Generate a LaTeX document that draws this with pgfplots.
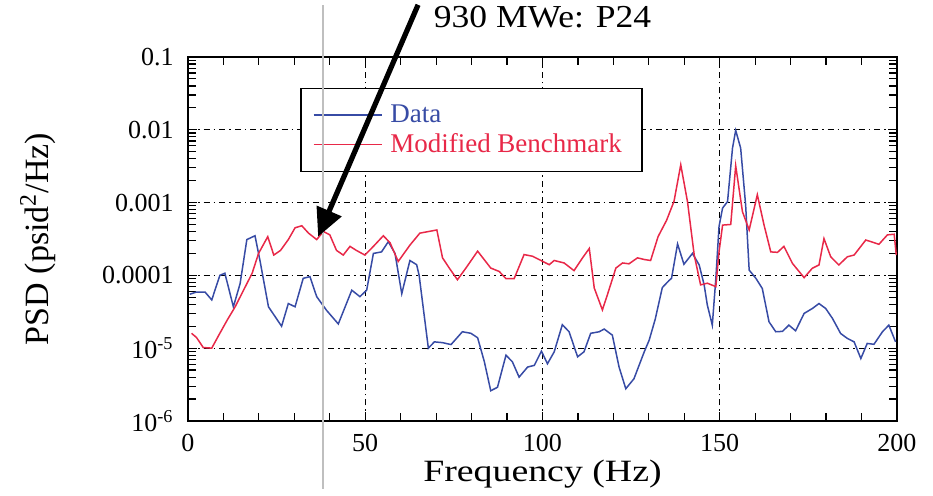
\documentclass[border=0pt]{standalone}
\usepackage{fontspec}
\setmainfont{Liberation Serif}
\newfontfamily\titlefont{Liberation Serif}[FakeStretch=1.11]
\newfontfamily\xlabfont{Liberation Serif}[FakeStretch=1.22]
\usepackage{pgfplots}
\pgfplotsset{compat=1.18}
\usetikzlibrary{arrows.meta}
\definecolor{dblue}{RGB}{55,75,165}
\definecolor{dred}{RGB}{232,40,72}
\begin{document}
\begin{tikzpicture}
\begin{axis}[
  scale only axis,
  width=354.5pt, height=182pt,
  xmin=0, xmax=200,
  ymode=log, ymin=1e-6, ymax=0.1,
  xtick={0,50,100,150,200},
  xticklabels={0,50,100,150,200},
  minor x tick num=4,
  ytick={1e-6,1e-5,1e-4,1e-3,1e-2,1e-1},
  yticklabels={10\textsuperscript{-6},10\textsuperscript{-5},0.0001,0.001,0.01,0.1},
  tick align=inside,
  xtick pos=both, ytick pos=both,
  xticklabel pos=bottom, yticklabel pos=left,
  major tick length=4.5pt, minor tick length=4pt,
  every tick/.style={black, line width=0.6pt},
  axis line style={line width=0.9pt},
  tick label style={font=\fontsize{13}{13}\selectfont},
  xticklabel style={yshift=-3.2pt},
  yticklabel style={xshift=-3.7pt},
  grid=major,
  major grid style={black, line width=0.5pt, dash pattern=on 3pt off 2pt on 0.8pt off 2pt},
  title={\titlefont\fontsize{16}{16}\selectfont 930 MWe: P24},
  title style={at={(axis description cs:0.5,1.0467)}, anchor=base},
  xlabel={\xlabfont\fontsize{15.5}{16}\selectfont Frequency (Hz)},
  xlabel style={at={(axis description cs:0.5,-0.1676)}, anchor=base},
  ylabel={\fontsize{17}{17}\selectfont PSD (psid\textsuperscript{2}/Hz)},
  ylabel style={at={(axis description cs:-0.2116,0.5)}, anchor=center, rotate=0},
  legend style={at={(rel axis cs:0.158,0.915)}, anchor=north west, draw=black, line width=0.75pt,
    font=\fontsize{13.5}{15}\selectfont, inner xsep=6pt, inner ysep=6pt, row sep=0pt,
    fill=white, nodes={inner xsep=4pt}},
  legend cell align=left,
  legend image code/.code={\draw[#1] (0pt,0pt) -- (34pt,0pt);},
]
\addplot[dblue, line width=0.75pt] coordinates {
(0.5,5.5e-5)(2.4,5.9e-5)(4.8,5.9e-5)(6.7,4.6e-5)(9.0,1.0e-4)(10.4,1.07e-4)(12.8,3.7e-5)
(14.7,7.7e-5)(16.6,3.1e-4)(18.9,3.5e-4)(20.3,1.6e-4)(22.7,3.7e-5)(26.4,2.0e-5)(28.3,4.1e-5)
(30.2,3.7e-5)(32.5,9.1e-5)(34.4,9.6e-5)(36.3,5.1e-5)(39.1,3.3e-5)(42.4,2.15e-5)(46.2,6.25e-5)
(48.5,5.1e-5)(50.4,6.25e-5)(52.3,2.0e-4)(54.6,2.1e-4)(56.5,2.9e-4)(58.4,2.0e-4)(60.3,5.6e-5)
(62.6,1.6e-4)(64.5,1.4e-4)(65.2,1.0e-4)(67.8,1.0e-5)(69.5,1.22e-5)(71.8,1.19e-5)(74.2,1.12e-5)
(77.4,1.68e-5)(79.8,1.6e-5)(81.7,1.39e-5)(83.6,6.5e-6)(85.4,2.6e-6)(87.3,2.9e-6)(89.7,8.0e-6)
(91.5,6.5e-6)(93.4,4.0e-6)(95.8,5.5e-6)(97.7,5.8e-6)(99.7,9.1e-6)(101.4,6.1e-6)(103.3,8.9e-6)
(105.6,2.1e-5)(107.5,1.68e-5)(109.9,7.6e-6)(111.7,8.9e-6)(113.6,1.6e-5)(116.0,1.68e-5)
(117.4,1.83e-5)(119.7,1.51e-5)(121.6,5.5e-6)(123.5,2.77e-6)(125.8,3.8e-6)(128.7,8.9e-6)
(130.1,1.29e-5)(131.8,2.5e-5)(133.8,6.8e-5)(135.7,8.5e-5)(136.4,9.1e-5)(138.1,2.7e-4)
(139.9,1.42e-4)(142.3,2.0e-4)(144.2,1.39e-4)(145.6,7.4e-5)(146.5,3.9e-5)(147.9,2.07e-5)
(148.9,9.1e-5)(149.8,4.7e-4)(150.8,8.4e-4)(152.2,1.03e-3)(153.6,5.6e-3)(154.5,9.8e-3)
(155.9,5.6e-3)(157.3,9.3e-4)(158.3,1.18e-4)(160.2,9.1e-5)(162.0,6.6e-5)(163.9,2.3e-5)
(165.8,1.68e-5)(167.7,1.7e-5)(169.5,2.07e-5)(171.4,1.73e-5)(173.8,3.0e-5)(176.1,3.5e-5)
(178.0,4.1e-5)(179.9,3.5e-5)(181.8,2.56e-5)(184.1,1.59e-5)(186.0,1.36e-5)(187.9,1.22e-5)
(189.8,7.2e-6)(191.6,1.16e-5)(193.5,1.13e-5)(195.9,1.68e-5)(197.7,2.07e-5)(199.6,1.22e-5)
};
\addlegendentry{\textcolor{dblue}{Data}}
\addplot[dred, line width=0.75pt] coordinates {
(1.0,1.6e-5)(2.4,1.4e-5)(4.3,1.02e-5)(6.7,1.0e-5)(8.6,1.48e-5)(11.0,2.4e-5)(13.3,3.7e-5)
(15.7,6.3e-5)(18.1,1.07e-4)(19.9,2.0e-4)(22.5,3.4e-4)(24.2,1.9e-4)(26.1,2.2e-4)(28.3,3.1e-4)
(30.2,4.5e-4)(32.1,4.8e-4)(34.0,3.8e-4)(36.3,3.1e-4)(38.2,4.0e-4)(40.0,3.6e-4)(41.9,2.2e-4)
(43.8,1.9e-4)(45.7,2.5e-4)(47.5,2.2e-4)(49.9,1.9e-4)(52.3,2.5e-4)(55.1,3.5e-4)(57.0,2.8e-4)
(59.3,1.55e-4)(62.6,2.6e-4)(65.4,3.8e-4)(70.2,4.2e-4)(71.8,1.74e-4)(73.7,1.26e-4)(76.0,8.7e-5)
(78.4,1.26e-4)(81.7,2.15e-4)(85.4,1.26e-4)(87.8,1.13e-4)(89.7,9.0e-5)(92.0,9.0e-5)(94.8,1.93e-4)
(97.2,1.83e-4)(100.0,1.56e-4)(101.9,1.4e-4)(103.3,1.6e-4)(106.1,1.48e-4)(108.9,1.16e-4)
(111.3,1.74e-4)(113.2,2.34e-4)(114.6,6.7e-5)(116.9,3.35e-5)(118.3,5.4e-5)(120.7,1.26e-4)
(122.6,1.48e-4)(124.4,1.44e-4)(126.8,1.74e-4)(128.7,1.65e-4)(130.5,1.6e-4)(132.6,3.4e-4)
(135.0,5.7e-4)(137.1,1.04e-3)(139.0,3.3e-3)(140.9,1.03e-3)(142.8,1.9e-4)(144.6,7.4e-5)
(146.5,7.8e-5)(148.9,7.0e-5)(149.8,2.1e-4)(150.8,4.9e-4)(153.1,5.0e-4)(154.5,3.2e-3)
(156.4,7.5e-4)(158.3,4.2e-4)(160.6,1.28e-3)(162.5,4.9e-4)(164.4,2.1e-4)(166.3,2.07e-4)
(168.1,2.5e-4)(170.5,1.46e-4)(173.8,9.3e-5)(176.1,1.25e-4)(178.0,1.39e-4)(179.4,3.2e-4)
(181.3,1.8e-4)(183.6,1.39e-4)(186.0,1.8e-4)(187.9,1.9e-4)(191.2,3.06e-4)(194.9,2.67e-4)
(197.3,3.6e-4)(199.2,3.67e-4)(199.8,1.9e-4)
};
\addlegendentry{\textcolor{dred}{Modified Benchmark}}
\coordinate (ArrS) at (axis cs:64.9,0.52);
\coordinate (ArrE) at (axis cs:36.7,3.4e-4);
\end{axis}
\draw[black!25, line width=0.7pt] ([shift={(67.5pt,-34pt)}]current axis.south west) -- ([shift={(67.5pt,208pt)}]current axis.south west);
\draw[line width=2.6pt, -{Triangle[length=14pt,width=13pt]}] (ArrS) -- (ArrE);
\path ([shift={(-94pt,-34pt)}]current axis.south west) rectangle ([shift={(18pt,26pt)}]current axis.north east);
\end{tikzpicture}
\end{document}
